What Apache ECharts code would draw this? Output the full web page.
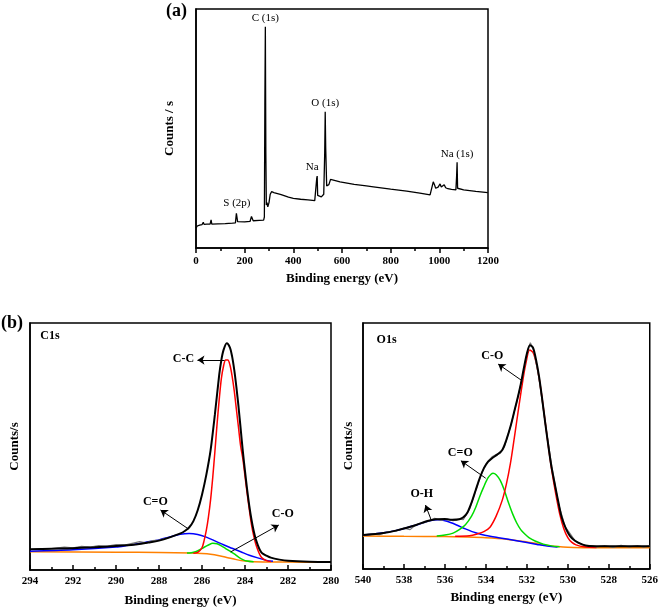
<!DOCTYPE html>
<html><head><meta charset="utf-8">
<script src="https://cdn.jsdelivr.net/npm/echarts@6/dist/echarts.min.js"></script>
<style>html,body{margin:0;padding:0;background:#fff}#c{width:661px;height:610px}</style>
</head><body><div id="c"></div>
<script>
// ---- Panel (a): survey spectrum [binding energy eV, counts (a.u.)]
const surveyTicks = [0, 200, 400, 600, 800, 1000, 1200];
const survey = [[0,8.3],[5,9.2],[15,9.6],[25,9.8],[30,10.8],[33,9.9],[45,10.0],[58,10.0],[62,11.8],[65,10.0],[90,10.1],[120,10.2],[150,10.4],[162,10.5],[166,14.5],[168,15.1],[171,11.0],[175,10.6],[200,10.9],[222,11.1],[228,13.2],[231,13.4],[235,11.4],[260,11.6],[278,11.7],[281,13],[283,60],[285,92.6],[287,40],[289,18],[292,19],[295,17.2],[300,19],[305,22.5],[311,23.6],[320,23.2],[350,22.3],[380,21.3],[400,20.8],[430,20.4],[460,20.1],[488,19.8],[493,20.5],[496,29],[498,30.1],[500,22],[505,21.3],[515,21.4],[525,22.5],[529,40],[531,57],[533,42],[537,26],[541,25.4],[546,26.5],[553,28.7],[560,28.3],[592,27.7],[650,26.6],[700,26],[729,25.6],[800,24.6],[866,23.8],[920,23],[962,22.2],[968,23],[975,27.7],[980,26.5],[985,25],[995,25.5],[1003,26.8],[1008,25.5],[1014,25],[1020,26.5],[1023,27.2],[1026,25.2],[1035,24.8],[1050,24.5],[1068,24.3],[1071,30],[1073,35.9],[1075,25],[1078,24.8],[1100,24.3],[1150,23.7],[1199,23.2]];
const surveyPeaks = [["C (1s)",285,92.6],["O (1s)",531,57],["Na",498,30.1],["Na (1s)",1073,35.9],["S (2p)",168,15.1]];

// ---- Panel (b) left: C1s
const c1sTicks = [294, 292, 290, 288, 286, 284, 282, 280];
const c1sRaw = [[294,8.3],[293.6,8.6],[293.2,8.5],[292.8,8.9],[292.4,9.3],[292,9.0],[291.6,9.6],[291.2,9.3],[290.8,9.9],[290.4,9.7],[290,10.3],[289.6,10.1],[289.2,10.9],[288.9,11.5],[288.6,11.0],[288.3,11.9],[288,12.1],[287.6,13.0]];
const c1sFit = [[294,8.4],[293,8.6],[292,8.8],[291,9.2],[290,9.7],[289.5,10.0],[289,10.4],[288.5,11.1],[288,11.9],[287.5,13.2],[287,14.8],[286.8,15.8],[286.6,17.2],[286.4,19.8],[286.2,24.2],[286.0,30.5],[285.8,38.5],[285.6,48.5],[285.4,63],[285.2,79],[285.1,85],[285.0,89],[284.85,91.8],[284.7,90],[284.6,86.5],[284.5,81],[284.4,74],[284.3,66],[284.2,57],[284.1,48],[284.0,40],[283.9,32.5],[283.8,26],[283.7,20.5],[283.6,16],[283.5,12.5],[283.4,10],[283.3,8],[283.2,6.8],[283.0,5.8],[282.8,5.0],[282.4,4.2],[282,3.7],[281,3.3],[280,3.2]];
const c1sCC = [[286.4,6.8],[286.2,7.1],[286.0,9],[285.9,12],[285.8,16],[285.7,21.5],[285.6,28.5],[285.5,37.5],[285.4,48],[285.3,59],[285.2,69],[285.1,77.5],[285.0,82.5],[284.9,85],[284.8,85],[284.7,83],[284.6,78.5],[284.5,72.5],[284.4,65],[284.3,57.5],[284.2,50],[284.1,45],[284.0,38],[283.9,31],[283.8,24.5],[283.7,18.5],[283.6,14],[283.5,10.5],[283.4,8],[283.3,6],[283.2,4.8],[283.0,3.8],[282.8,3.4]];
const c1sCeqO = [[294,7.6],[292,8.2],[290,9.3],[289.5,9.9],[289,10.6],[288.5,11.4],[288,12.2],[287.5,13.4],[287,14.5],[286.6,14.8],[286.2,14.4],[285.8,13.3],[285.4,11.8],[285,10.2],[284.6,8.8],[284.2,7.4],[283.8,6.0],[283.4,4.9],[283.0,3.9],[282.7,3.5]];
const c1sCO = [[286.7,6.9],[286.5,7.0],[286.3,7.4],[286.1,8.2],[285.9,9.2],[285.7,10.1],[285.5,10.8],[285.3,10.6],[285.1,9.8],[284.9,8.7],[284.7,7.6],[284.5,6.5],[284.3,5.2],[284.1,4.2],[283.9,3.6],[283.6,3.3]];
const c1sBg = [[294,7.4],[290,7.2],[288,7.1],[286.5,6.9],[286,6.7],[285.6,6.4],[285.2,5.8],[284.8,5.0],[284.4,4.2],[284.0,3.6],[283.6,3.3],[282,3.2],[280,3.1]];

// ---- Panel (b) right: O1s
const o1sTicks = [540, 538, 536, 534, 532, 530, 528, 526];
const o1sRaw = [[540,13.9],[539.6,14.3],[539.2,14.0],[538.8,15.1],[538.4,15.4],[538,16.6],[537.7,16.0],[537.4,18.1],[537.1,18.6],[536.8,19.4],[536.5,20.6],[536.2,19.8],[535.9,20.4],[535.6,19.6],[535.3,20.3],[535.1,20.1],[534.8,24.3],[534.5,31.8],[534.1,41.2],[533.9,43.8],[533.7,45.6],[533.5,46.5],[533.3,47.0],[533.1,49.6],[532.8,57.9],[532.47,68.7],[532.23,77.5],[531.99,87.7],[531.83,92.0],[531.67,89.0],[531.42,78.2],[531.1,59.2],[530.78,41.6],[530.46,26.7],[530.13,17.2],[529.65,11.5],[529.3,9.9],[529,9.6],[528.6,9.0],[528.2,9.5],[527.8,8.8],[527.4,9.6],[527,9.0],[526.6,9.5],[526.3,8.9],[526,9.4]];
const o1sFit = [[540,13.8],[539,14.6],[538.4,15.6],[537.4,17.9],[536.9,19.4],[536.45,20.2],[536,20.3],[535.65,20.0],[535.3,20.2],[535.1,21.0],[534.9,23],[534.7,27],[534.5,32],[534.3,37],[534.1,40.9],[533.9,43.5],[533.7,45.0],[533.45,46.5],[533.2,48.4],[533.0,52.5],[532.8,57.9],[532.6,64.5],[532.45,69.5],[532.3,75],[532.15,81.5],[532.0,87.5],[531.85,91],[531.7,90],[531.55,85],[531.4,78],[531.25,69],[531.1,59.2],[530.95,50],[530.8,41.6],[530.6,33],[530.45,26.7],[530.3,21],[530.1,16.5],[529.9,13.5],[529.65,11.5],[529.3,10],[529.0,9.3],[528,9.2],[526,9.2]];
const o1sCO = [[535.5,13.3],[534.8,13.5],[534.4,14.3],[534.1,15.2],[533.8,17],[533.5,21.5],[533.2,28],[533.0,34.5],[532.8,43],[532.6,54],[532.4,65.5],[532.2,76.5],[532.05,83.5],[531.86,89],[531.7,88],[531.55,84],[531.4,77.5],[531.25,69],[531.1,59.5],[530.95,50],[530.8,41],[530.6,31],[530.4,22.5],[530.2,16.5],[530.0,12.8],[529.8,10.8],[529.6,9.8],[529.2,9.0],[528.6,8.7]];
const o1sCeqO = [[536.4,13.4],[536.0,13.8],[535.6,14.6],[535.3,16],[535.0,18],[534.7,21.5],[534.5,25],[534.3,29.5],[534.1,33.5],[533.9,37],[533.75,38.5],[533.65,38.9],[533.5,38.3],[533.3,36],[533.1,32],[532.9,27],[532.7,22.5],[532.5,18.8],[532.3,16],[532.1,14.2],[531.9,12.8],[531.6,11.4],[531.2,10.1],[530.8,9.4],[530.4,9.0]];
const o1sOH = [[540,13.8],[539.5,14.2],[539,14.7],[538.4,15.6],[537.9,16.7],[537.4,17.9],[536.8,19.5],[536.35,20.0],[535.9,19.4],[535.4,17.8],[535.0,16.3],[534.5,14.7],[534,13.6],[533.3,12.6],[532.5,11.5],[531.5,10.0],[531,9.3],[530.5,8.9]];
const o1sBg = [[540,13.4],[538,13.3],[536,13.2],[535,13.0],[534,12.7],[533,12.1],[532,11.0],[531.5,10.3],[531,9.6],[530.5,9.1],[530,8.8],[529,8.6],[526,8.6]];

const FONT = 'Liberation Serif';
const chart = echarts.init(document.getElementById('c'));

function xAx(idx, min, max, interval, inverse, inside, name, nameGap, labelMargin) {
  return {
    gridIndex: idx, type: 'value', min: min, max: max, interval: interval, inverse: inverse, z: 10,
    name: name, nameLocation: 'middle', nameGap: nameGap,
    nameTextStyle: {fontFamily: FONT, fontWeight: 'bold', fontSize: 13, color: '#000'},
    axisLine: {show: true, onZero: false, lineStyle: {color: '#000', width: 1.5}},
    axisTick: {show: true, inside: inside, length: 5, lineStyle: {color: '#000', width: 1.5}},
    minorTick: {show: true, splitNumber: 2, length: 3, lineStyle: {color: '#000', width: 1.5}},
    axisLabel: {fontFamily: FONT, fontWeight: 'bold', fontSize: 11, color: '#000', margin: labelMargin,
      formatter: function (v) { return String(v); }},
    splitLine: {show: false}
  };
}
function yAx(idx, name, nameGap) {
  return {
    gridIndex: idx, type: 'value', min: 0, max: 100,
    name: name, nameLocation: 'middle', nameGap: nameGap,
    nameTextStyle: {fontFamily: FONT, fontWeight: 'bold', fontSize: 13, color: '#000'},
    axisLine: {show: true, lineStyle: {color: '#000', width: 1.5}},
    axisTick: {show: false}, axisLabel: {show: false}, splitLine: {show: false}
  };
}
function line(xi, data, color, width, z, smooth) {
  return {type: 'line', xAxisIndex: xi, yAxisIndex: xi, data: data, showSymbol: false, symbol: 'none',
    smooth: smooth, z: z, silent: true, animation: false,
    lineStyle: {color: color, width: width}};
}
function labels(list, size, bold) {
  return list.map(function (p) {
    return {coord: [p[1], p[2]], value: p[0], symbol: 'circle', symbolSize: 0,
      label: {show: true, formatter: p[0], position: 'inside', fontFamily: FONT, fontSize: size,
        fontWeight: bold ? 'bold' : 'normal', color: '#000'}};
  });
}
function arrows(list) {
  return list.map(function (a) { return [{coord: [a[0], a[1]]}, {coord: [a[2], a[3]]}]; });
}

const surveySeries = line(0, survey, '#000', 1.3, 5, false);
surveySeries.markPoint = {silent: true, animation: false, data: surveyPeaks.map(function (p) {
  return {coord: [p[1], p[2]], symbol: 'circle', symbolSize: 0,
    label: {show: true, formatter: p[0], position: 'top', distance: 3, fontFamily: FONT, fontSize: 11, color: '#000',
      offset: p[0] === 'Na' ? [-5, 0] : [0, 0]}};
})};

const c1sAnnot = line(1, c1sFit, '#000', 2, 6, 0.3);
c1sAnnot.markPoint = {silent: true, animation: false, data: labels([["C1s",293.07,94.7],["C-C",286.86,85.4],["C=O",288.17,27.5],["C-O",282.24,22.7]], 12, true)};
c1sAnnot.markLine = {silent: true, animation: false, symbol: ['none', 'arrow'], symbolSize: 7,
  lineStyle: {color: '#000', width: 1, type: 'solid'}, label: {show: false},
  data: arrows([[284.95,85.0,286.21,85.0],[286.63,16.6,287.93,24.3],[284.67,7.3,282.43,18.2]])};

const o1sAnnot = line(2, o1sFit, '#000', 2, 6, 0.3);
o1sAnnot.markPoint = {silent: true, animation: false, data: labels([["O1s",538.85,93.1],["C-O",533.69,86.6],["C=O",535.25,47.3],["O-H",537.13,30.5]], 12, true)};
o1sAnnot.markLine = {silent: true, animation: false, symbol: ['none', 'arrow'], symbolSize: 7,
  lineStyle: {color: '#000', width: 1, type: 'solid'}, label: {show: false},
  data: arrows([[532.23,76.5,533.4,83.3],[534.01,36.9,535.22,44.0],[536.67,19.9,536.95,26.0]])};

chart.setOption({
  animation: false,
  backgroundColor: '#fff',
  grid: [
    {left: 196, top: 9, width: 292, height: 239, show: true, borderColor: '#000', borderWidth: 1.5},
    {left: 30, top: 323, width: 301, height: 247, show: true, borderColor: '#000', borderWidth: 1.5},
    {left: 363, top: 323, width: 289, height: 246, show: true, borderColor: '#000', borderWidth: 1.5}
  ],
  xAxis: [
    xAx(0, surveyTicks[0], surveyTicks[surveyTicks.length - 1], 200, false, false, 'Binding energy (eV)', 24, 8),
    xAx(1, c1sTicks[c1sTicks.length - 1], c1sTicks[0], 2, true, true, 'Binding energy (eV)', 24, 6),
    xAx(2, o1sTicks[o1sTicks.length - 1], o1sTicks[0], 2, true, true, 'Binding energy (eV)', 22, 6)
  ],
  yAxis: [yAx(0, 'Counts / s', 20), yAx(1, 'Counts/s', 9), yAx(2, 'Counts/s', 8)],
  graphic: [
    {type: 'text', left: 166, top: 2, style: {text: '(a)', font: 'bold 18px "Liberation Serif"', fill: '#000'}},
    {type: 'text', left: 1, top: 314, style: {text: '(b)', font: 'bold 18px "Liberation Serif"', fill: '#000'}}
  ],
  series: [
    surveySeries,
    line(1, c1sBg, '#ff8000', 1.5, 1, 0.3),
    line(1, c1sCO, '#00dd00', 1.5, 2, 0.3),
    line(1, c1sCeqO, '#0000ff', 1.5, 2, 0.3),
    line(1, c1sCC, '#ff0000', 1.5, 3, 0.3),
    line(1, c1sRaw, '#777', 1.2, 4, false),
    c1sAnnot,
    line(2, o1sBg, '#ff8000', 1.5, 1, 0.3),
    line(2, o1sOH, '#0000ff', 1.5, 2, 0.3),
    line(2, o1sCeqO, '#00dd00', 1.5, 2, 0.3),
    line(2, o1sCO, '#ff0000', 1.5, 3, 0.3),
    line(2, o1sRaw, '#777', 1.2, 4, false),
    o1sAnnot
  ]
});
</script></body></html>
